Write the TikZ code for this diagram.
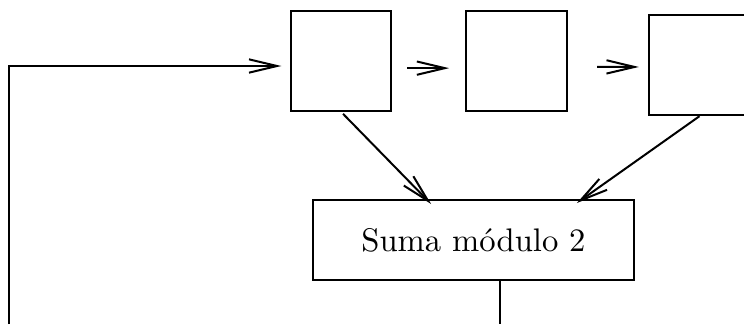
\documentclass[tikz,border=0pt]{standalone}
\usetikzlibrary{arrows.meta}
\begin{document}
\begin{tikzpicture}[x=0.3pt,y=-0.3pt,line width=0.6pt,
  blk/.style={draw,inner sep=0pt,minimum width=30.2pt,minimum height=30pt},
  sumbox/.style={draw,inner sep=0pt,minimum width=96.5pt,minimum height=24.1pt,font=\fontsize{9.8}{12}\selectfont},
  arr/.style={-{Straight Barb[length=8.4pt,width=4pt]}}]
\useasboundingbox (0,0) rectangle (744,324);
\node[blk] (b1) at (341,60.8) {};
\node[blk] (b2) at (516.5,60.8) {};
\node[blk,minimum width=30.2pt,minimum height=30.1pt] (b3) at (699.5,65) {};
\node[sumbox] (sum) at (473.5,240.2) {Suma módulo 2};
\coordinate (fb) at (9,324);
\coordinate (fbc) at (9,66);
\coordinate (out) at (500.3,324);
\draw[arr,shorten >=2.5pt] (fb) -- (fbc) -- (b1.west |- fbc);
\draw[arr,shorten <=4.5pt,shorten >=4.8pt] ([yshift=-2.2pt]b1.east) -- ([yshift=-2.2pt]b2.west);
\draw[arr,shorten <=8.8pt,shorten >=2.8pt] ([yshift=-1.8pt]b2.east) -- ([yshift=-0.6pt]b3.west);
\draw[arr] ([xshift=0.6pt,yshift=-0.6pt]b1.south) -- ([xshift=-12.7pt,yshift=-1.5pt]sum.north);
\draw[arr] ([yshift=0pt]b3.south) -- ([xshift=31pt,yshift=-1.2pt]sum.north);
\draw (sum.south -| out) -- (out);
\end{tikzpicture}
\end{document}
